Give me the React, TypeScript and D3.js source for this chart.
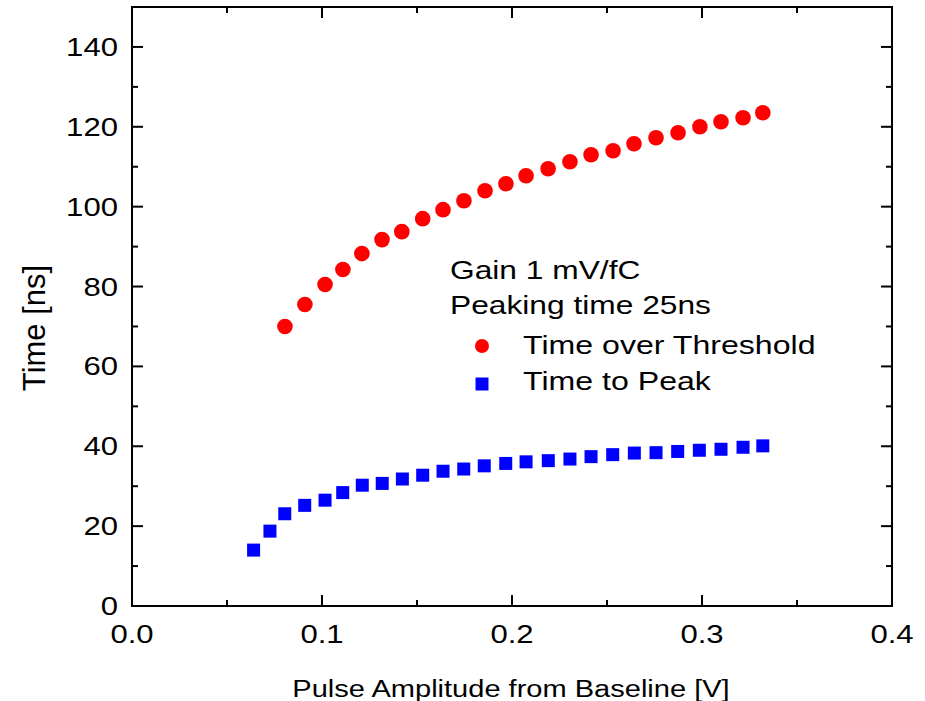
import * as d3 from 'd3'

const totX = [0.0805, 0.091, 0.1016, 0.111, 0.121, 0.1316, 0.142, 0.153, 0.1637, 0.1747, 0.1858, 0.1968, 0.2074, 0.219, 0.2305, 0.2416, 0.2532, 0.2642, 0.2758, 0.2874, 0.2989, 0.31, 0.3216, 0.332]
const totY = [70, 75.5, 80.5, 84.25, 88.25, 91.75, 93.75, 97, 99.25, 101.5, 104, 105.75, 107.75, 109.5, 111.25, 113, 114, 115.75, 117.25, 118.5, 120, 121.25, 122.25, 123.5]

const peakX = [0.064, 0.0726, 0.0804, 0.0909, 0.1016, 0.1109, 0.1212, 0.1317, 0.1423, 0.153, 0.1637, 0.1746, 0.1854, 0.1967, 0.2074, 0.2191, 0.2305, 0.2416, 0.253, 0.2644, 0.2758, 0.2872, 0.2986, 0.31, 0.3216, 0.332]
const peakY = [14, 18.75, 23.1, 25.2, 26.5, 28.4, 30.25, 30.7, 31.8, 32.75, 33.75, 34.3, 35.1, 35.7, 36.1, 36.4, 36.8, 37.4, 37.9, 38.3, 38.4, 38.7, 39, 39.25, 39.75, 40.1]

const xTickLabels = ['0.0', '0.1', '0.2', '0.3', '0.4']
const yTickLabels = ['0', '20', '40', '60', '80', '100', '120', '140']
const infoLines = ['Gain 1 mV/fC', 'Peaking time 25ns']
const seriesNames = ['Time over Threshold', 'Time to Peak']

const W = 925
const H = 701
const left = 132
const right = 892
const top = 7
const bottom = 606
const FONT = "'Liberation Sans', Arial, sans-serif"

// the original text is a little wider than it is tall, so stretch it in x
function SText({ x, y, anchor = 'start', fs = 25.5, sx = 1.22, children }: any) {
  return (
    <text
      transform={`translate(${x},${y}) scale(${sx},1)`}
      textAnchor={anchor}
      fontFamily={FONT}
      fontSize={fs}
      fill='#000'
    >
      {children}
    </text>
  )
}

export default function App() {
  const x = d3.scaleLinear().domain([0, 0.4]).range([left, right])
  const y = d3.scaleLinear().domain([0, 150]).range([bottom, top])

  const xMajor = xTickLabels.map((d) => +d)
  const xMinor = d3.range(0.05, 0.4, 0.1)
  const yMajor = yTickLabels.map((d) => +d)
  const yMinor = d3.range(10, 150, 20)
  const major = 11
  const minor = 6

  const tot = totX.map((v, i) => [v, totY[i]])
  const peak = peakX.map((v, i) => [v, peakY[i]])
  const sq = 13

  return (
    <svg
      width={W}
      height={H}
      style={{ position: 'absolute', left: 0, top: 0, background: '#fff' }}
    >
      <rect width={W} height={H} fill='#fff' />

      {/* ticks, inward on all four sides */}
      <g stroke='#000' strokeWidth={2}>
        {xMajor.map((d) => (
          <g key={'xm' + d}>
            <line x1={x(d)} x2={x(d)} y1={bottom} y2={bottom - major} />
            <line x1={x(d)} x2={x(d)} y1={top} y2={top + major} />
          </g>
        ))}
        {xMinor.map((d) => (
          <g key={'xn' + d}>
            <line x1={x(d)} x2={x(d)} y1={bottom} y2={bottom - minor} />
            <line x1={x(d)} x2={x(d)} y1={top} y2={top + minor} />
          </g>
        ))}
        {yMajor.map((d) => (
          <g key={'ym' + d}>
            <line x1={left} x2={left + major} y1={y(d)} y2={y(d)} />
            <line x1={right} x2={right - major} y1={y(d)} y2={y(d)} />
          </g>
        ))}
        {yMinor.map((d) => (
          <g key={'yn' + d}>
            <line x1={left} x2={left + minor} y1={y(d)} y2={y(d)} />
            <line x1={right} x2={right - minor} y1={y(d)} y2={y(d)} />
          </g>
        ))}
        <rect x={left} y={top} width={right - left} height={bottom - top} fill='none' />
      </g>

      {xTickLabels.map((t) => (
        <SText key={'xl' + t} x={x(+t)} y={643} anchor='middle'>
          {t}
        </SText>
      ))}
      {yTickLabels.map((t) => (
        <SText key={'yl' + t} x={118} y={y(+t) + 9} anchor='end'>
          {t}
        </SText>
      ))}

      <SText x={511} y={697} anchor='middle' fs={24.5} sx={1.185}>
        Pulse Amplitude from Baseline [V]
      </SText>
      <text
        transform='translate(45,328) rotate(-90)'
        textAnchor='middle'
        fontFamily={FONT}
        fontSize={31}
      >
        Time [ns]
      </text>

      {tot.map((d, i) => (
        <circle key={'t' + i} cx={x(d[0])} cy={y(d[1])} r={7.8} fill='#ff0000' />
      ))}
      {peak.map((d, i) => (
        <rect
          key={'p' + i}
          x={x(d[0]) - sq / 2}
          y={y(d[1]) - sq / 2}
          width={sq}
          height={sq}
          fill='#0000ff'
        />
      ))}

      {/* legend */}
      <SText x={450} y={279} fs={26} sx={1.22}>{infoLines[0]}</SText>
      <SText x={450} y={314} fs={26} sx={1.22}>{infoLines[1]}</SText>
      <circle cx={482} cy={346} r={7} fill='#ff0000' />
      <SText x={523} y={354} fs={26} sx={1.235}>{seriesNames[0]}</SText>
      <rect x={482 - 6.5} y={384 - 6.5} width={13} height={13} fill='#0000ff' />
      <SText x={523} y={390} fs={26} sx={1.235}>{seriesNames[1]}</SText>
    </svg>
  )
}
